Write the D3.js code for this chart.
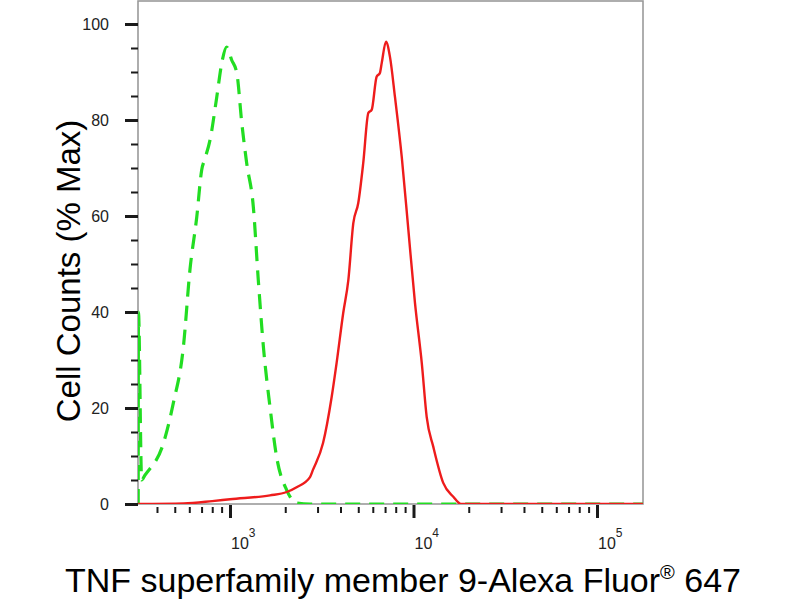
<!DOCTYPE html>
<html>
<head>
<meta charset="utf-8">
<script src="https://cdn.jsdelivr.net/npm/d3@7"></script>
<style>
  html, body { margin: 0; padding: 0; background: #fff; }
  svg { display: block; }
  text { font-family: "Liberation Sans", Arial, Helvetica, sans-serif; }
</style>
</head>
<body>
<svg id="chart" width="800" height="600"></svg>
<script>
// ---- data (fluorescence intensity, % of max) ----
const redIntensity = [316, 560, 800, 1000, 1652, 2037, 2307, 2729, 2831, 3214, 3581, 3811, 4140, 4416, 4699, 5000, 5321, 5675, 5916, 6295, 6561, 6714, 7079, 7447, 7925, 8630, 9376, 10186, 11092, 11803, 12823, 14521, 16482, 18155, 177828];
const redPercent   = [0, 0.1, 0.6, 1.0, 1.8, 2.5, 3.5, 5.6, 7.1, 12.7, 22.3, 29.4, 39.8, 46.7, 58.5, 62.7, 71, 81.5, 82.1, 89, 89.8, 91.9, 96.3, 93.1, 84.8, 72.3, 57.1, 41.9, 29.4, 18.1, 11.9, 4.4, 1.5, 0, 0];

const greenIntensity = [316, 317, 330, 344, 434, 491, 557, 605, 659, 701, 731, 778, 847, 902, 959, 1021, 1089, 1159, 1233, 1340, 1426, 1521, 1652, 1795, 2037, 2307, 2729, 177828];
const greenPercent   = [0, 40, 5, 6, 12.7, 21, 32.7, 48.8, 59.8, 69.6, 72, 75.8, 84.8, 91.9, 95.2, 92.5, 89.8, 79.4, 71, 61.9, 46.7, 32.7, 20.2, 9.8, 2.9, 0.2, 0, 0];

const yTickValues = [0, 20, 40, 60, 80, 100];
const yMinorValues = [5, 10, 15, 25, 30, 35, 45, 50, 55, 65, 70, 75, 85, 90, 95];
const xMajorValues = [1e3, 1e4, 1e5];
const xMajorExponents = ["3", "4", "5"];
const xMinorValues = [400, 500, 600, 700, 800, 900,
  2000, 3000, 4000, 5000, 6000, 7000, 8000, 9000,
  20000, 30000, 40000, 50000, 60000, 70000, 80000, 90000];

const xTitleMain = "TNF superfamily member 9-Alexa Fluor";
const xTitleSup = "®";
const xTitleEnd = " 647";
const yTitle = "Cell Counts (% Max)";

// ---- layout ----
const pLeft = 138, pRight = 643, pTop = 0, pBottom = 504;
const svg = d3.select("#chart");

const x = d3.scaleLog().domain([Math.pow(10, 2.4986), Math.pow(10, 5.2507)]).range([pLeft, pRight]);
const y = d3.scaleLinear().domain([0, 105]).range([pBottom, pTop]);

// clip
svg.append("defs").append("clipPath").attr("id", "clip")
  .append("rect").attr("x", pLeft).attr("y", pTop).attr("width", pRight - pLeft).attr("height", pBottom - pTop);

// frame
svg.append("rect")
  .attr("x", pLeft).attr("y", pTop + 1).attr("width", pRight - pLeft).attr("height", pBottom - pTop - 1)
  .attr("fill", "none").attr("stroke", "#9a9a9a").attr("stroke-width", 1.6);

// y axis ticks
const yMajor = d3.axisLeft(y).tickValues(yTickValues).tickSize(13).tickFormat(d3.format("d"));
const gy = svg.append("g").attr("transform", `translate(${pLeft},0)`).call(yMajor);
gy.select(".domain").remove();
gy.selectAll(".tick line").attr("stroke", "#1a1a1a").attr("stroke-width", 3);
gy.selectAll(".tick text").attr("fill", "#222").style("font-size", "16px").attr("x", -29);

const yMinor = d3.axisLeft(y).tickValues(yMinorValues).tickSize(7).tickFormat("");
const gy2 = svg.append("g").attr("transform", `translate(${pLeft},0)`).call(yMinor);
gy2.select(".domain").remove();
gy2.selectAll(".tick line").attr("stroke", "#1a1a1a").attr("stroke-width", 2);

// x axis ticks
const xMinorAxis = d3.axisBottom(x).tickValues(xMinorValues).tickSize(9).tickFormat("");
const gx2 = svg.append("g").attr("transform", `translate(0,${pBottom})`).call(xMinorAxis);
gx2.select(".domain").remove();
gx2.selectAll(".tick line").attr("stroke", "#1a1a1a").attr("stroke-width", 2).attr("y1", 3);

const xMajorAxis = d3.axisBottom(x).tickValues(xMajorValues).tickSize(14).tickFormat("");
const gx = svg.append("g").attr("transform", `translate(0,${pBottom})`).call(xMajorAxis);
gx.select(".domain").remove();
gx.selectAll(".tick line").attr("stroke", "#1a1a1a").attr("stroke-width", 3).attr("y1", 1);

// x tick labels (10^n)
const xl = svg.append("g").selectAll("text").data(xMajorValues).join("text")
  .attr("x", d => x(d) + 1).attr("y", 549)
  .attr("fill", "#222").style("font-size", "16px");
xl.append("tspan").text("10");
xl.append("tspan").attr("dy", -12).style("font-size", "12px").text((d, i) => xMajorExponents[i]);

// curves
const line = d3.line().x(d => x(d[0])).y(d => y(d[1])).curve(d3.curveMonotoneX);
const plot = svg.append("g").attr("clip-path", "url(#clip)");

plot.append("path")
  .datum(greenIntensity.map((v, i) => [v, greenPercent[i]]))
  .attr("d", line).attr("fill", "none")
  .attr("stroke", "#22dd22").attr("stroke-width", 3.2)
  .attr("stroke-dasharray", "15,9");

plot.append("path")
  .datum(redIntensity.map((v, i) => [v, redPercent[i]]))
  .attr("d", line).attr("fill", "none")
  .attr("stroke", "#ee1c1c").attr("stroke-width", 2.4);

// titles
svg.append("text")
  .attr("transform", "translate(80,271) rotate(-90)")
  .attr("text-anchor", "middle").attr("fill", "#000")
  .style("font-size", "33px").text(yTitle);

const xt = svg.append("text")
  .attr("x", 403).attr("y", 592).attr("text-anchor", "middle").attr("fill", "#000")
  .style("font-size", "34px");
xt.append("tspan").text(xTitleMain);
xt.append("tspan").attr("dy", -13).style("font-size", "20px").text(xTitleSup);
xt.append("tspan").attr("dy", 13).text(xTitleEnd);
</script>
</body>
</html>
